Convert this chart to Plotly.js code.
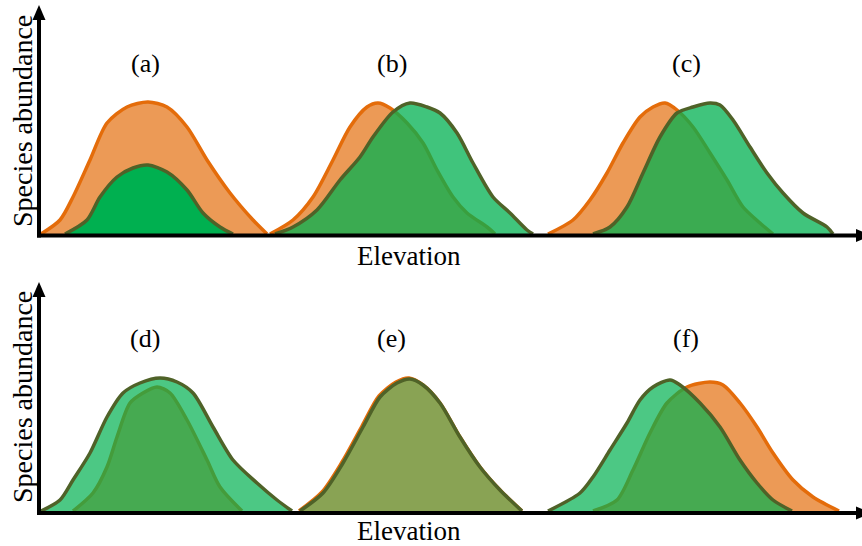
<!DOCTYPE html>
<html>
<head>
<meta charset="utf-8">
<script src="https://cdn.plot.ly/plotly-3.0.1.min.js"></script>
<style>html,body{margin:0;padding:0;background:#fff}#chart{width:862px;height:546px}</style>
</head>
<body>
<div id="chart"></div>
<script>
// ---- Data (elevation, abundance in arbitrary units) ----
// Panel (a)
const aOrangeX = [3, 22, 35, 52, 69, 89, 110, 129, 149, 169, 192, 215, 229];
const aOrangeY = [0, 14, 37, 74, 111, 127, 132, 127, 107, 74, 41, 14, 0];
const aGreenX  = [27, 49, 62, 79, 95, 110, 129, 149, 165, 182, 195];
const aGreenY  = [0, 14, 37, 57, 66, 69, 62, 44, 21, 7, 0];
// Panel (b)
const bOrangeX = [232, 255, 275, 295, 312, 329, 340, 352, 369, 385, 399, 415, 429, 449, 457];
const bOrangeY = [0, 14, 37, 74, 107, 127, 131, 126, 111, 91, 64, 37, 21, 7, 0];
const bGreenX  = [237, 255, 279, 302, 322, 335, 355, 372, 389, 402, 419, 435, 455, 472, 489, 495];
const bGreenY  = [0, 7, 24, 54, 77, 97, 122, 131, 127, 121, 101, 71, 37, 21, 4, 0];
// Panel (c)
const cOrangeX = [510, 535, 552, 569, 585, 602, 615, 627, 639, 655, 672, 689, 705, 722, 735];
const cOrangeY = [0, 14, 34, 61, 91, 117, 127, 131, 124, 107, 81, 54, 27, 11, 0];
const cGreenX  = [555, 572, 589, 605, 622, 639, 655, 672, 682, 695, 712, 729, 745, 765, 789, 795];
const cGreenY  = [0, 7, 27, 61, 97, 121, 127, 131, 129, 114, 87, 61, 41, 21, 7, 0];
// Panel (d)
const dOrangeX = [35, 55, 69, 79, 92, 105, 119, 132, 149, 169, 182, 204];
const dOrangeY = [0, 18, 44, 74, 108, 118, 124, 118, 91, 51, 24, 0];
const dGreenX  = [3, 22, 35, 52, 69, 85, 102, 122, 139, 155, 175, 195, 219, 239, 254];
const dGreenY  = [0, 11, 31, 58, 94, 118, 128, 133, 129, 118, 84, 51, 28, 11, 0];
// Panel (e)
const eOrangeX = [261, 284, 304, 324, 341, 358, 371, 385, 402, 422, 442, 462, 484];
const eOrangeY = [0, 19, 49, 85, 115, 129, 133, 126, 108, 74, 44, 21, 0];
const eGreenX  = [262, 285, 305, 325, 342, 359, 372, 385, 402, 422, 442, 462, 484];
const eGreenY  = [0, 18, 48, 84, 114, 128, 132, 126, 108, 74, 44, 21, 0];
// Panel (f)
const fOrangeX = [555, 579, 595, 612, 629, 649, 672, 685, 702, 719, 735, 755, 775, 801];
const fOrangeY = [0, 11, 41, 78, 108, 124, 129, 126, 108, 84, 58, 31, 14, 0];
const fGreenX  = [510, 542, 555, 572, 589, 602, 615, 632, 642, 662, 682, 702, 719, 735, 754];
const fGreenY  = [0, 18, 34, 61, 88, 111, 124, 131, 126, 108, 84, 51, 28, 11, 0];

const panelLabels = ['(a)', '(b)', '(c)', '(d)', '(e)', '(f)'];
const xTitle = 'Elevation';
const yTitle = 'Species abundance';

// ---- Styles ----
const ORANGE_LINE = '#E46C0A';
const ORANGE_FILL = '#EC9A56';
const GREEN_LINE = '#4F6228';
const greenFill = a => `rgba(0,176,80,${a})`;

function curve(x, y, xa, ya, lineColor, fillColor) {
  return {
    type: 'scatter', mode: 'lines', x: x, y: y, xaxis: xa, yaxis: ya,
    fill: 'tozeroy', fillcolor: fillColor,
    line: {color: lineColor, width: 3.5, shape: 'spline', smoothing: 0.8},
    hoverinfo: 'skip', showlegend: false
  };
}

const traces = [
  curve(aOrangeX, aOrangeY, 'x', 'y', ORANGE_LINE, ORANGE_FILL),
  curve(aGreenX, aGreenY, 'x', 'y', GREEN_LINE, greenFill(1)),
  curve(bOrangeX, bOrangeY, 'x', 'y', ORANGE_LINE, ORANGE_FILL),
  curve(bGreenX, bGreenY, 'x', 'y', GREEN_LINE, greenFill(0.75)),
  curve(cOrangeX, cOrangeY, 'x', 'y', ORANGE_LINE, ORANGE_FILL),
  curve(cGreenX, cGreenY, 'x', 'y', GREEN_LINE, greenFill(0.75)),
  curve(dOrangeX, dOrangeY, 'x2', 'y2', ORANGE_LINE, ORANGE_FILL),
  curve(dGreenX, dGreenY, 'x2', 'y2', GREEN_LINE, greenFill(0.7)),
  curve(eOrangeX, eOrangeY, 'x2', 'y2', ORANGE_LINE, ORANGE_FILL),
  curve(eGreenX, eGreenY, 'x2', 'y2', GREEN_LINE, greenFill(0.42)),
  curve(fOrangeX, fOrangeY, 'x2', 'y2', ORANGE_LINE, ORANGE_FILL),
  curve(fGreenX, fGreenY, 'x2', 'y2', GREEN_LINE, greenFill(0.7))
];

const W = 862, H = 546;
const px = v => v / W;
const py = v => 1 - v / H;

const hiddenAxis = {visible: false, fixedrange: true};
const layout = {
  width: W, height: H,
  margin: {l: 0, r: 0, t: 0, b: 0},
  paper_bgcolor: '#ffffff', plot_bgcolor: 'rgba(0,0,0,0)',
  showlegend: false,
  xaxis: Object.assign({}, hiddenAxis, {domain: [px(38), 1], range: [0, 824], anchor: 'y'}),
  yaxis: Object.assign({}, hiddenAxis, {domain: [py(234), py(5)], range: [0, 229], anchor: 'x'}),
  xaxis2: Object.assign({}, hiddenAxis, {domain: [px(38), 1], range: [0, 824], anchor: 'y2'}),
  yaxis2: Object.assign({}, hiddenAxis, {domain: [py(511), py(282)], range: [0, 229], anchor: 'x2'}),
  shapes: [],
  annotations: []
};

function axisArrows(yBase, yTop) {
  layout.shapes.push({type: 'line', xref: 'paper', yref: 'paper', layer: 'above',
    x0: px(39), x1: px(39), y0: py(yBase + 2), y1: py(yTop + 12),
    line: {color: '#000', width: 4}});
  layout.shapes.push({type: 'path', xref: 'paper', yref: 'paper', layer: 'above',
    path: `M ${px(39)} ${py(yTop)} L ${px(32.5)} ${py(yTop + 15)} L ${px(45.5)} ${py(yTop + 15)} Z`,
    fillcolor: '#000', line: {color: '#000', width: 0}});
  layout.shapes.push({type: 'line', xref: 'paper', yref: 'paper', layer: 'above',
    x0: px(37), x1: px(858), y0: py(yBase), y1: py(yBase),
    line: {color: '#000', width: 4}});
  layout.shapes.push({type: 'path', xref: 'paper', yref: 'paper', layer: 'above',
    path: `M ${px(872)} ${py(yBase)} L ${px(856)} ${py(yBase - 6.5)} L ${px(856)} ${py(yBase + 6.5)} Z`,
    fillcolor: '#000', line: {color: '#000', width: 0}});
}
axisArrows(235.5, 5);
axisArrows(513, 282);

const FONT = 'Liberation Serif, Times New Roman, serif';
function label(text, x, y, size, angle) {
  layout.annotations.push({text: text, xref: 'paper', yref: 'paper', x: px(x), y: py(y),
    xanchor: 'center', yanchor: 'middle', showarrow: false, textangle: angle || 0,
    font: {family: FONT, size: size, color: '#000'}});
}
const labelPos = [[145, 63], [392, 63], [686, 63], [145, 338], [391, 338], [686, 338]];
panelLabels.forEach((t, i) => label(t, labelPos[i][0], labelPos[i][1], 26));
label(xTitle, 409, 256, 27);
label(xTitle, 409, 531, 27);
label(yTitle, 22, 121, 28, -90);
label(yTitle, 22, 397, 28, -90);

Plotly.newPlot('chart', traces, layout, {staticPlot: true, displayModeBar: false});
</script>
</body>
</html>
